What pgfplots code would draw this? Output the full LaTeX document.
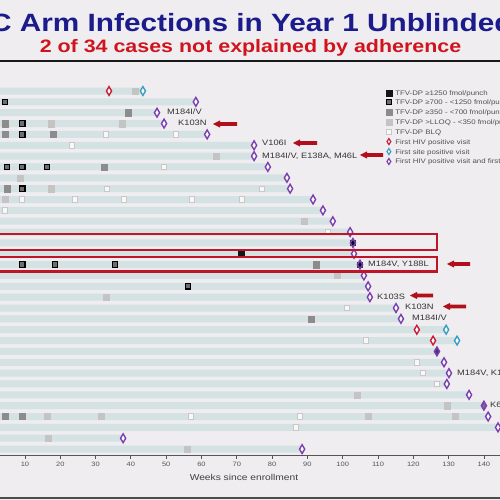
\documentclass[border=0pt]{standalone}
\usepackage{fontspec}
\setmainfont{Liberation Sans}
\usepackage{graphicx}
\usepackage{pgfplots}
\usepackage{pgfplotstable}
\pgfplotsset{compat=1.18}
\definecolor{bg}{HTML}{EFEDF0}
\definecolor{barc}{HTML}{D4E2E3}
\definecolor{titleblue}{HTML}{1B1B8C}
\definecolor{subred}{HTML}{D0141E}
\definecolor{boxred}{HTML}{C01428}
\definecolor{arrowred}{HTML}{B0101C}
\definecolor{mpurple}{HTML}{7B3FB0}
\definecolor{mred}{HTML}{C8203A}
\definecolor{mcyan}{HTML}{3A9EC4}
\definecolor{sqblack}{HTML}{151515}
\definecolor{sqdark}{HTML}{6E6E6E}
\definecolor{sqmed}{HTML}{8C8C8C}
\definecolor{sqlight}{HTML}{C4C4C4}
\definecolor{sqwhite}{HTML}{F8F8F8}
\definecolor{sqwhited}{HTML}{C8C8C8}
\definecolor{txt}{HTML}{333333}
\definecolor{legtxt}{HTML}{505050}
\definecolor{axisgray}{HTML}{555555}
\newcommand{\sx}[1]{\scalebox{1.19}[1]{#1}}
\newcommand{\larrow}[3]{\fill[arrowred] (#1,{500-#3}) -- ({#1+7},{500-#3+3.6}) -- ({#1+7},{500-#3+1.9}) -- (#2,{500-#3+1.9}) -- (#2,{500-#3-1.9}) -- ({#1+7},{500-#3-1.9}) -- ({#1+7},{500-#3-3.6}) -- cycle;}

\pgfplotstableread{
row end
1 43.4
2 58.4
3 47.4
4 49.4
5 61.6
6 74.9
7 74.9
8 78.8
9 84.2
10 85.1
11 91.6
12 94.4
13 97.2
14 102.1
15 102.9
16 103.2
17 104.9
18 106.0
19 107.2
20 107.7
21 115.1
22 116.5
23 129.3
24 132.4
25 126.7
26 128.7
27 130.1
28 129.5
29 135.8
30 140.0
31 141.2
32 144.0
33 37.8
34 88.5
}\bars

\pgfplotsset{
 sqA/.style={only marks, mark=square*, mark size=3.1pt, mark options={fill=sqblack, draw=sqblack, line width=0.4pt}},
 sqB/.style={only marks, mark=square*, mark size=2.75pt, mark options={fill=sqdark, draw=black, line width=1.2pt}},
 sqC/.style={only marks, mark=square*, mark size=3.1pt, mark options={fill=sqmed, draw=sqmed, line width=0.3pt}},
 sqD/.style={only marks, mark=square*, mark size=3.1pt, mark options={fill=sqlight, draw=sqlight, line width=0.3pt}},
 sqE/.style={only marks, mark=square*, mark size=2.7pt, mark options={fill=sqwhite, draw=sqwhited, line width=0.9pt}},
 dm/.style={only marks, mark=diamond*, mark size=4.4pt, mark options={xscale=0.78, fill=white, draw=#1, line width=1.4pt}},
}

\begin{document}
\begin{tikzpicture}[x=1pt,y=1pt]
\useasboundingbox (0,0) rectangle (500,500);
\clip (0,0) rectangle (500,500);
\fill[bg] (-5,-5) rectangle (505,505);

% title
\node[anchor=base west, inner sep=0, font=\fontsize{25}{30}\selectfont\bfseries, text=titleblue] at (-10,468.5) {\sx{C Arm Infections in Year 1 Unblinded}};
\node[anchor=base, inner sep=0, font=\fontsize{18}{22}\selectfont\bfseries, text=subred] at (250.5,447.3) {\sx{2 of 34 cases not explained by adherence}};
\draw[line width=2.3pt, color=black!90] (-5,439) -- (505,439);
\draw[line width=2pt, color=black!70] (-5,2) -- (505,2);

\begin{axis}[
  at={(0pt,44.4pt)}, anchor=south west,
  scale only axis, width=500pt, height=371.1pt,
  xmin=2.92, xmax=144.56, ymin=0.4, ymax=34.6, y dir=reverse,
  clip=false,
  axis x line*=bottom, axis y line=none,
  axis line style={draw=axisgray, line width=1.2pt},
  xtick={10,20,...,140},
  /pgf/number format/assume math mode=true,
  xticklabel={\sx{\pgfmathprintnumber{\tick}}},
  xticklabel style={font=\fontsize{6.3}{7}\selectfont, text=axisgray},
  tick style={draw=axisgray, line width=0.8pt}, major tick length=3pt, xtick align=outside,
  legend cell align=left,
  legend image code/.code={\draw[mark repeat=2,mark phase=2,#1] plot coordinates {(0pt,1.2pt)(3pt,1.2pt)(6pt,1.2pt)};},
  legend style={draw=none, fill=none, inner sep=0pt, outer sep=0pt, row sep=2.1pt,
    at={(0.772,0.985)}, anchor=north west,
    font=\fontsize{6.6}{7}\selectfont, text=legtxt,
    nodes={inner sep=0pt, text height=4.9pt, text depth=2.4pt},
    /tikz/every odd column/.append style={column sep=3.5pt}},
]
\addplot[xbar, bar width=7pt, fill=barc, draw=none, forget plot] table[x=end, y=row] {\bars};

\addplot[sqA, forget plot] coordinates {(71.2,16)};
\addplot[sqB, forget plot] coordinates {(4.3,2) (9.2,4) (9.2,5) (4.9,8) (9.2,8) (16.2,8) (9.2,10) (9.2,17) (18.5,17) (35.5,17) (56.2,19)};
\addplot[sqC, forget plot] coordinates {(39.2,3) (4.3,4) (4.3,5) (17.9,5) (32.4,8) (4.9,10) (92.4,17) (91.0,22) (4.3,31) (9.2,31)};
\addplot[sqD, forget plot] coordinates {(41.2,1) (17.4,4) (37.5,4) (64.1,7) (8.6,9) (17.4,10) (4.3,11) (89.0,13) (98.4,18) (32.9,20) (104.0,29) (129.5,30) (16.2,31) (31.5,31) (107.2,31) (131.8,31) (16.5,33) (55.9,34)};
\addplot[sqE, forget plot] coordinates {(32.9,5) (52.8,5) (23.3,6) (49.4,8) (33.2,10) (77.1,10) (9.2,11) (24.2,11) (38.0,11) (57.3,11) (71.5,11) (4.3,12) (95.8,14) (101.2,21) (106.6,24) (121.0,26) (122.7,27) (126.7,28) (57.0,31) (87.9,31) (86.8,32)};
% dark squares under purple diamonds
\addplot[only marks, mark=square*, mark size=2.6pt, mark options={fill=black!75!blue!60!black, draw=black!80}, forget plot] coordinates {(102.9,15) (104.9,17)};

\addplot[dm=mred, forget plot] coordinates {(33.8,1) (121.0,23) (125.6,24)};
\addplot[dm=mcyan, forget plot] coordinates {(43.4,1) (129.3,23) (132.4,24)};
\addplot[dm=mpurple, forget plot] coordinates {(58.4,2) (47.4,3) (49.4,4) (61.6,5) (74.9,6) (74.9,7) (78.8,8) (84.2,9) (85.1,10) (91.6,11) (94.4,12) (97.2,13) (102.1,14) (103.2,16) (106.0,18) (107.2,19) (107.7,20) (115.1,21) (116.5,22) (128.7,26) (130.1,27) (129.5,28) (135.8,29) (141.2,31) (144.0,32) (37.8,33) (88.5,34)};
\addplot[only marks, mark=diamond, mark size=4.4pt, mark options={xscale=0.78, draw=mpurple, line width=1.4pt}, forget plot] coordinates {(102.9,15) (104.9,17)};
\addplot[only marks, mark=diamond*, mark size=4.4pt, mark options={xscale=0.78, fill=mpurple!70!black, draw=mpurple, line width=1.4pt}, forget plot] coordinates {(126.7,25)};
\addplot[only marks, mark=diamond*, mark size=4.4pt, mark options={xscale=0.78, fill=mpurple!40!gray, draw=mpurple, line width=1.4pt}, forget plot] coordinates {(140.0,30)};

% legend
\addlegendimage{only marks, mark=square*, mark size=2.9pt, mark options={fill=sqblack, draw=sqblack}}
\addlegendentry{\sx{TFV-DP ≥1250 fmol/punch}}
\addlegendimage{only marks, mark=square*, mark size=2.5pt, mark options={fill=sqdark, draw=black, line width=1pt}}
\addlegendentry{\sx{TFV-DP ≥700 - <1250 fmol/punch}}
\addlegendimage{only marks, mark=square*, mark size=2.9pt, mark options={fill=sqmed, draw=sqmed}}
\addlegendentry{\sx{TFV-DP ≥350 - <700 fmol/punch}}
\addlegendimage{only marks, mark=square*, mark size=2.9pt, mark options={fill=sqlight, draw=sqlight}}
\addlegendentry{\sx{TFV-DP >LLOQ - <350 fmol/punch}}
\addlegendimage{only marks, mark=square*, mark size=2.6pt, mark options={fill=sqwhite, draw=sqwhited, line width=0.8pt}}
\addlegendentry{\sx{TFV-DP BLQ}}
\addlegendimage{only marks, mark=diamond*, mark size=3pt, mark options={xscale=0.85, fill=white, draw=mred, line width=1.2pt}}
\addlegendentry{\sx{First HIV positive visit}}
\addlegendimage{only marks, mark=diamond*, mark size=3pt, mark options={xscale=0.85, fill=white, draw=mcyan, line width=1.2pt}}
\addlegendentry{\sx{First site positive visit}}
\addlegendimage{only marks, mark=diamond*, mark size=3pt, mark options={xscale=0.85, fill=white, draw=mpurple, line width=1.2pt}}
\addlegendentry{\sx{First HIV positive visit and first site positive visit}}
\end{axis}

% red boxes
\draw[boxred, line width=2.2pt] (-5,266) rectangle (437,250);
\draw[boxred, line width=2.2pt] (-5,243) rectangle (437,228.5);

% mutation labels
\begin{scope}[every node/.style={anchor=west, inner sep=0pt, font=\fontsize{7.8}{9}\selectfont, text=txt}]
\node at (167,388) {\sx{M184I/V}};
\node at (178,377) {\sx{K103N}};
\node at (262,357) {\sx{V106I}};
\node at (262,344) {\sx{M184I/V, E138A, M46L}};
\node at (368,236) {\sx{M184V, Y188L}};
\node at (377,203) {\sx{K103S}};
\node at (405,193) {\sx{K103N}};
\node at (412,182) {\sx{M184I/V}};
\node at (457,127) {\sx{M184V, K103N}};
\node at (490,95) {\sx{K65R}};
\end{scope}

\larrow{213}{237}{124}
\larrow{293}{317}{143}
\larrow{360}{383}{155}
\larrow{447}{470}{264}
\larrow{410}{433}{295.5}
\larrow{443}{466}{306.5}

\node[font=\fontsize{8.6}{10}\selectfont, text=black!75, inner sep=0pt] at (244,23) {\sx{Weeks since enrollment}};
\end{tikzpicture}
\end{document}
